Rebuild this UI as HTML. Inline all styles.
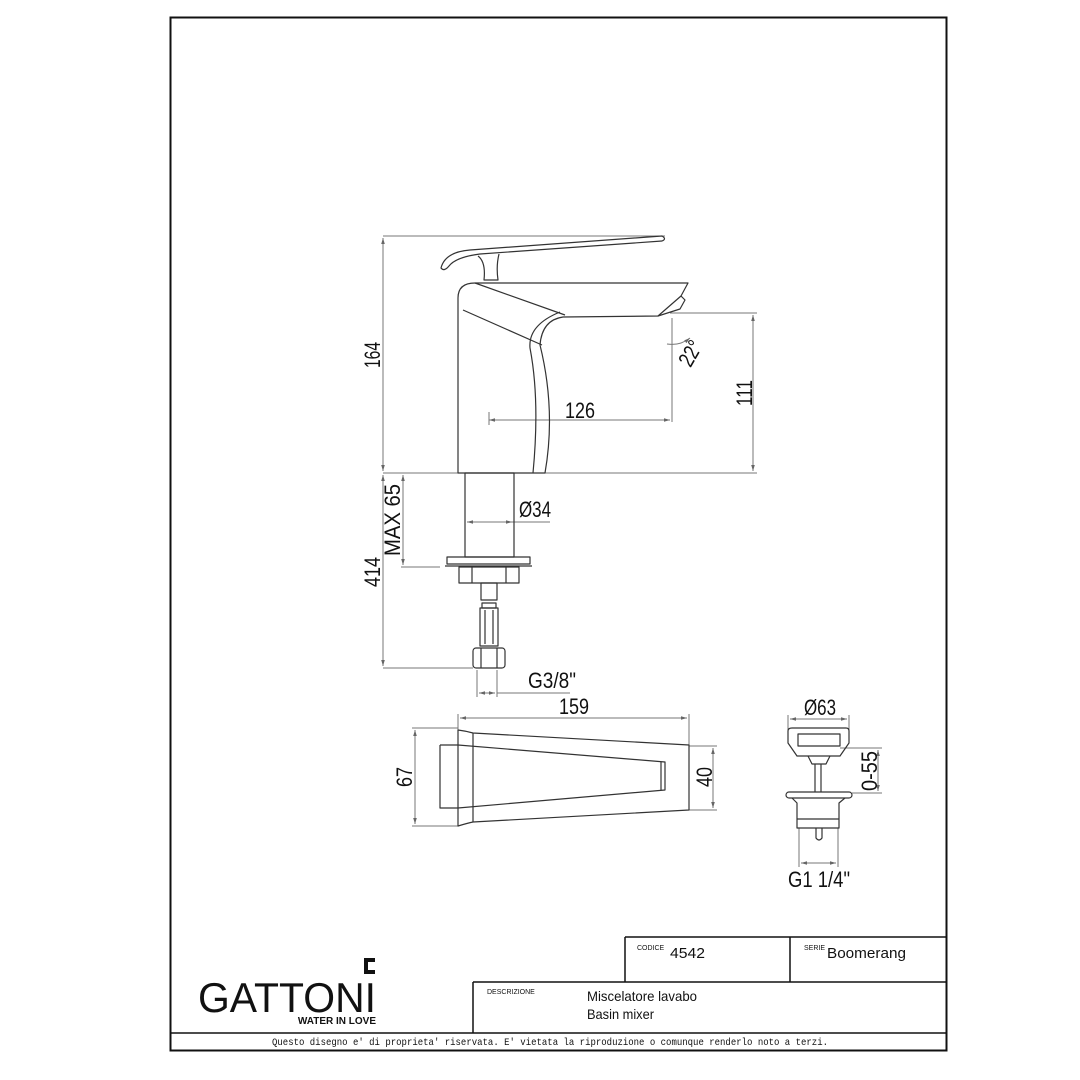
<!DOCTYPE html>
<html><head><meta charset="utf-8"><style>
html,body{margin:0;padding:0;background:#fff;}
svg{display:block;}
text{font-family:"Liberation Sans",sans-serif;fill:#111;}
.d{font-size:22px;}
</style></head><body>
<svg width="1080" height="1080" viewBox="0 0 1080 1080" xmlns="http://www.w3.org/2000/svg">
<defs>
<marker id="a" viewBox="0 0 10 10" refX="10" refY="5" markerWidth="6" markerHeight="6" orient="auto-start-reverse"><path d="M0,2 L10,5 L0,8 z" fill="#666"/></marker>
</defs>
<rect x="0" y="0" width="1080" height="1080" fill="#fff"/>
<rect x="170.5" y="17.5" width="776" height="1033" fill="none" stroke="#111" stroke-width="2"/>
<line x1="170" y1="1033" x2="947" y2="1033" stroke="#111" stroke-width="1.5"/>
<line x1="625" y1="937" x2="947" y2="937" stroke="#111" stroke-width="1.5"/>
<line x1="625" y1="937" x2="625" y2="982" stroke="#111" stroke-width="1.5"/>
<line x1="790" y1="937" x2="790" y2="982" stroke="#111" stroke-width="1.5"/>
<line x1="473" y1="982" x2="947" y2="982" stroke="#111" stroke-width="1.5"/>
<line x1="473" y1="982" x2="473" y2="1033" stroke="#111" stroke-width="1.5"/>
<text x="637" y="950" font-size="7">CODICE</text>
<text x="670" y="958" font-size="15" textLength="35" lengthAdjust="spacingAndGlyphs">4542</text>
<text x="804" y="950" font-size="7">SERIE</text>
<text x="827" y="958" font-size="15" textLength="79" lengthAdjust="spacingAndGlyphs">Boomerang</text>
<text x="487" y="994" font-size="7">DESCRIZIONE</text>
<text x="587" y="1001" font-size="14" textLength="110" lengthAdjust="spacingAndGlyphs">Miscelatore lavabo</text>
<text x="587" y="1019" font-size="14" textLength="67" lengthAdjust="spacingAndGlyphs">Basin mixer</text>
<text x="550" y="1045" style="font-family:'Liberation Mono',monospace;font-size:10.5px" text-anchor="middle" textLength="556" lengthAdjust="spacingAndGlyphs">Questo disegno e' di proprieta' riservata. E' vietata la riproduzione o comunque renderlo noto a terzi.</text>
<text x="198" y="1012" font-size="42" textLength="178" lengthAdjust="spacingAndGlyphs">GATTONI</text>
<text x="376" y="1024" font-size="10" text-anchor="end" font-weight="bold">WATER IN LOVE</text>
<path d="M364,958 h11 v4 h-7 v8 h7 v4 h-11z" fill="#111"/>

<g fill="none" stroke="#777" stroke-width="1">
<line x1="383" y1="236" x2="665" y2="236"/>
<line x1="383" y1="473" x2="757" y2="473"/>
<line x1="383" y1="238" x2="383" y2="471" marker-start="url(#a)" marker-end="url(#a)"/>
<line x1="670" y1="313" x2="757" y2="313"/>
<line x1="753" y1="315" x2="753" y2="471" marker-start="url(#a)" marker-end="url(#a)"/>
<line x1="489" y1="420" x2="670" y2="420" marker-start="url(#a)" marker-end="url(#a)"/>
<line x1="489" y1="412" x2="489" y2="425"/>
<line x1="672" y1="318" x2="672" y2="422"/>
<path d="M667,344 Q680,346 690,338" marker-end="url(#a)"/>
<line x1="383" y1="668" x2="473" y2="668"/>
<line x1="383" y1="475" x2="383" y2="666" marker-start="url(#a)" marker-end="url(#a)"/>
<line x1="403" y1="475" x2="403" y2="565" marker-start="url(#a)" marker-end="url(#a)"/>
<line x1="401" y1="567" x2="440" y2="567"/>
<line x1="467" y1="522" x2="512" y2="522" marker-start="url(#a)" marker-end="url(#a)"/>
<line x1="512" y1="522" x2="550" y2="522"/>
<line x1="477" y1="670" x2="477" y2="697"/>
<line x1="497" y1="670" x2="497" y2="697"/>
<line x1="479" y1="693" x2="495" y2="693" marker-start="url(#a)" marker-end="url(#a)"/>
<line x1="497" y1="693" x2="570" y2="693"/>
<line x1="458" y1="714" x2="458" y2="730"/>
<line x1="689" y1="714" x2="689" y2="745"/>
<line x1="460" y1="718" x2="687" y2="718" marker-start="url(#a)" marker-end="url(#a)"/>
<line x1="412" y1="728" x2="458" y2="728"/>
<line x1="412" y1="826" x2="458" y2="826"/>
<line x1="415" y1="730" x2="415" y2="824" marker-start="url(#a)" marker-end="url(#a)"/>
<line x1="689" y1="746" x2="717" y2="746"/>
<line x1="689" y1="810" x2="717" y2="810"/>
<line x1="713" y1="748" x2="713" y2="808" marker-start="url(#a)" marker-end="url(#a)"/>
<line x1="788" y1="715" x2="788" y2="730"/>
<line x1="849" y1="715" x2="849" y2="730"/>
<line x1="790" y1="719" x2="847" y2="719" marker-start="url(#a)" marker-end="url(#a)"/>
<line x1="840" y1="748" x2="882" y2="748"/>
<line x1="852" y1="793" x2="882" y2="793"/>
<line x1="878" y1="750" x2="878" y2="791" marker-start="url(#a)" marker-end="url(#a)"/>
<line x1="799" y1="828" x2="799" y2="867"/>
<line x1="838" y1="828" x2="838" y2="867"/>
<line x1="801" y1="863" x2="836" y2="863" marker-start="url(#a)" marker-end="url(#a)"/>
</g>

<g fill="none" stroke="#333" stroke-width="1.2" stroke-linejoin="round">
<path d="M441,268 Q445,252 470,250 L662,236 Q667,239 662,241 L480,254 Q456,257 449,266 Q444,272 441,268z"/>
<path d="M478,256 Q486,262 484,280 L498,280 Q496,266 499,254"/>
<path d="M458,473 L458,298 Q458,283 475,283 L688,283 L681,296 L658,316 L563,317 Q542,320 540,345 Q556,410 545,473 Z"/>
<path d="M475,283 L565,315 M463,310 L542,345 M533,473 Q540,400 530,348 Q528,325 560,312"/>
<path d="M658,316 L680,309 L685,300 L681,296"/>
<rect x="465" y="473" width="49" height="84"/>
<rect x="447" y="557" width="83" height="7"/>
<line x1="445" y1="566" x2="532" y2="566"/>
<rect x="459" y="567" width="60" height="16"/>
<line x1="472" y1="567" x2="472" y2="583"/><line x1="506" y1="567" x2="506" y2="583"/>
<rect x="481" y="583" width="16" height="17"/>
<rect x="482" y="603" width="14" height="5"/>
<rect x="480" y="608" width="18" height="38"/>
<line x1="485" y1="610" x2="485" y2="644"/><line x1="493" y1="610" x2="493" y2="644"/>
<rect x="473" y="648" width="32" height="20" rx="3"/>
<line x1="481" y1="648" x2="481" y2="668"/><line x1="497" y1="648" x2="497" y2="668"/>
<path d="M458,730 L458,826 Q468,823 473,822 L689,810 L689,745 L473,733 Q466,731 458,730z"/>
<line x1="473" y1="733" x2="473" y2="822"/>
<path d="M440,745 L458,745 M440,745 L440,808 L458,808"/>
<path d="M458,745 L665,762 L665,790 L458,808"/>
<line x1="661" y1="762" x2="661" y2="790"/>
<path d="M788,731 Q788,728 792,728 L846,728 Q849,728 849,731 L849,743 L840,756 L797,756 L788,743 Z"/>
<rect x="798" y="734" width="42" height="12"/>
<path d="M808,756 L812,764 L826,764 L830,756"/>
<line x1="815" y1="764" x2="815" y2="792"/><line x1="821" y1="764" x2="821" y2="792"/>
<rect x="786" y="792" width="66" height="6" rx="3"/>
<path d="M792,798 L797,803 L797,828 L839,828 L839,803 L845,798"/>
<line x1="797" y1="819" x2="839" y2="819"/>
<path d="M816,828 L816,838 Q819,842 822,838 L822,828"/>
</g>

<text class="d" transform="translate(380,355) rotate(-90)" text-anchor="middle" textLength="26" lengthAdjust="spacingAndGlyphs">164</text>
<text class="d" transform="translate(752,393) rotate(-90)" text-anchor="middle" textLength="26" lengthAdjust="spacingAndGlyphs">111</text>
<text class="d" x="580" y="418" text-anchor="middle" textLength="30" lengthAdjust="spacingAndGlyphs">126</text>
<text class="d" transform="translate(697,357) rotate(-60)" text-anchor="middle" textLength="26" lengthAdjust="spacingAndGlyphs">22°</text>
<text class="d" transform="translate(400,520) rotate(-90)" text-anchor="middle" textLength="72" lengthAdjust="spacingAndGlyphs">MAX 65</text>
<text class="d" transform="translate(380,572) rotate(-90)" text-anchor="middle" textLength="30" lengthAdjust="spacingAndGlyphs">414</text>
<text class="d" x="519" y="517" textLength="32" lengthAdjust="spacingAndGlyphs">Ø34</text>
<text class="d" x="528" y="688" textLength="48" lengthAdjust="spacingAndGlyphs">G3/8"</text>
<text class="d" x="574" y="714" text-anchor="middle" textLength="30" lengthAdjust="spacingAndGlyphs">159</text>
<text class="d" transform="translate(412,777) rotate(-90)" text-anchor="middle" textLength="20" lengthAdjust="spacingAndGlyphs">67</text>
<text class="d" transform="translate(712,777) rotate(-90)" text-anchor="middle" textLength="20" lengthAdjust="spacingAndGlyphs">40</text>
<text class="d" x="820" y="715" text-anchor="middle" textLength="32" lengthAdjust="spacingAndGlyphs">Ø63</text>
<text class="d" transform="translate(877,771) rotate(-90)" text-anchor="middle" textLength="40" lengthAdjust="spacingAndGlyphs">0-55</text>
<text class="d" x="819" y="887" text-anchor="middle" textLength="62" lengthAdjust="spacingAndGlyphs">G1 1/4"</text>
</svg>
</body></html>
